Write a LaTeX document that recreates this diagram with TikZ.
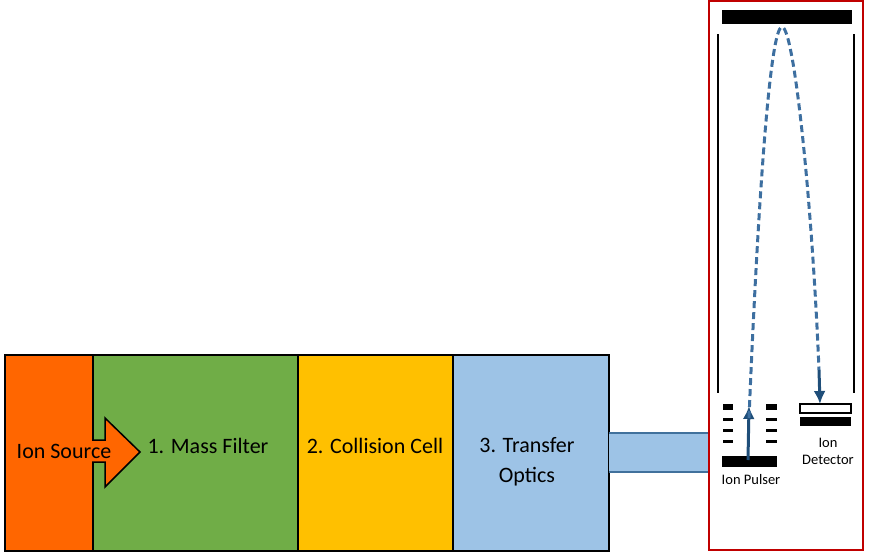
\documentclass[tikz,border=0pt]{standalone}
\usepackage{fontspec}
\setmainfont{Carlito}
\usetikzlibrary{arrows.meta,positioning}
\tikzset{>=Latex}
\definecolor{srcorange}{HTML}{FF6600}
\definecolor{filtgreen}{HTML}{70AD47}
\definecolor{cellyellow}{HTML}{FFC000}
\definecolor{optblue}{HTML}{9DC3E6}
\definecolor{tubeblue}{HTML}{41719C}
\definecolor{beamblue}{HTML}{1F4E79}
\definecolor{dashblue}{HTML}{3D6FA0}
\definecolor{tofred}{HTML}{C00000}
\tikzset{
  stage/.style={draw=black, line width=1.5pt, anchor=north west, inner sep=0pt},
  big/.style={font=\fontsize{22}{26}\selectfont, align=center},
  plate/.style={fill=black, draw=none},
  small/.style={font=\fontsize{14.5}{17}\selectfont, align=center}
}
\begin{document}
\begin{tikzpicture}[x=1pt,y=-1pt]
\useasboundingbox (0,0) rectangle (873,552);
% stages of the instrument
\node[stage, fill=srcorange, minimum width=88pt, minimum height=196pt] (src) at (4,354) {};
\node[stage, fill=filtgreen, minimum width=205pt, minimum height=196pt] (filt) at (92,354) {};
\node[stage, fill=cellyellow, minimum width=155pt, minimum height=196pt] (cell) at (297,354) {};
\node[stage, fill=optblue, minimum width=156pt, minimum height=196pt] (opt) at (452,354) {};
% transfer tube
\fill[optblue] (609,433) rectangle (709,472);
\draw[tubeblue, line width=1.2pt] (609,433) -- (709,433) (609,472) -- (709,472);
\draw[tubeblue, line width=1.2pt, dashed] (709,433) -- (709,472);
% ion beam arrow
\fill[srcorange] (90,440) -- (105,440) -- (105,418) -- (140,452) -- (105,487) -- (105,462) -- (90,462) -- cycle;
\draw[black, line width=1.5pt] (92,440) -- (105,440) -- (105,418) -- (140,452) -- (105,487) -- (105,462) -- (92,462);
\node[big] (srclabel) at (64,451) {Ion Source};
\node[big] (filtlabel) at (208,446) {1. Mass Filter};
\node[big] (celllabel) at (375,446) {2. Collision Cell};
\node[big] (optlabel) at (527,462) {3. Transfer\\[4pt]Optics};
% time of flight analyser
\draw[tofred, line width=2pt] (709,1) rectangle (863,550);
\fill[plate] (722,10) rectangle (852,24);
\draw[black, line width=2.5pt] (718,34) -- (718,393) (854,34) -- (854,393);
\foreach \y/\h in {404/6, 418/3, 429/3, 440/3} {
  \fill[plate] (723,\y) rectangle (733,\y+\h);
  \fill[plate] (766,\y) rectangle (777,\y+\h);
}
\fill[plate] (722,456) rectangle (777,467);
\draw[black, line width=1.5pt] (800,404) rectangle (851,413);
\fill[plate] (800,417) rectangle (851,426);
\node[small] (pulser) at (751,480) {Ion Pulser};
\node[small] (detector) at (828,451) {Ion\\Detector};
\coordinate (start) at (748,460);
\coordinate (turn) at (749,406);
\coordinate (peak) at (782,27);
\coordinate (land) at (820,404);
\draw[beamblue, line width=3pt, -{Latex[length=13pt,width=12pt]}] (start) -- (turn);
\draw[dashblue, line width=3pt, dash pattern=on 7pt off 4pt] (749,418) .. controls (758,200) and (770,27) .. (peak) .. controls (794,27) and (812,200) .. (819,370);
\draw[beamblue, line width=3pt, -{Latex[length=13pt,width=12pt]}] (819,370) -- (land);
\end{tikzpicture}
\end{document}
